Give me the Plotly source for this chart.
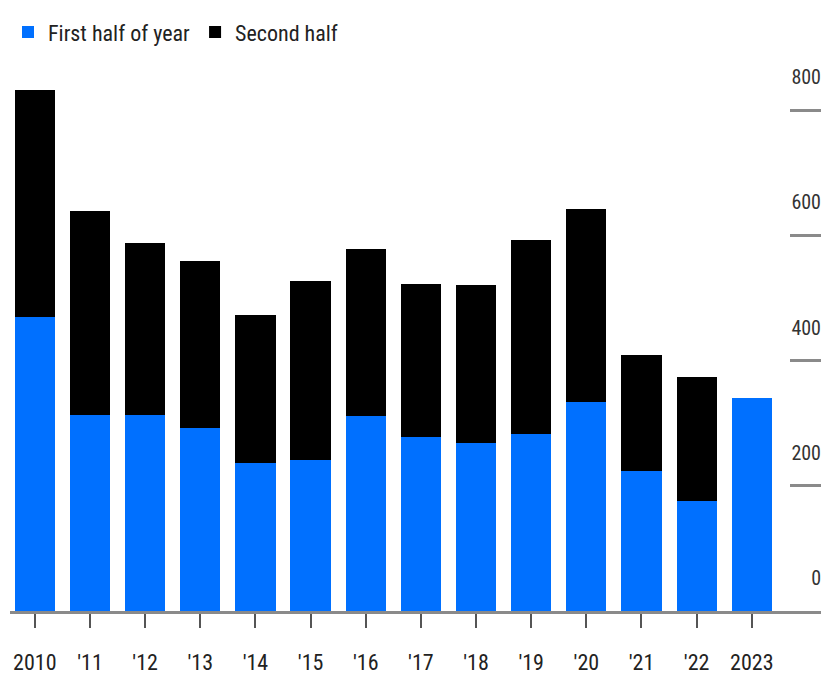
import plotly.graph_objects as go

years = ["2010", "'11", "'12", "'13", "'14", "'15", "'16", "'17", "'18", "'19", "'20", "'21", "'22", "2023"]
first_half = [469, 313, 313, 293, 236, 241, 311, 278, 268, 283, 333, 224, 176, 340]
second_half = [363, 325, 274, 266, 236, 286, 267, 244, 252, 309, 309, 185, 197, None]
y_ticks = [0, 200, 400, 600, 800]

FONT = "Liberation Sans Narrow, Roboto Condensed, Arial Narrow, Roboto, sans-serif"

fig = go.Figure()
fig.add_trace(go.Bar(x=years, y=first_half, name="First half of year",
                     marker=dict(color="#0070FF", line=dict(width=0))))
fig.add_trace(go.Bar(x=years, y=second_half, name="Second half",
                     marker=dict(color="#000000", line=dict(width=0))))

fig.update_layout(
    barmode="stack",
    bargap=0.27,
    width=821, height=672,
    margin=dict(l=2, r=0, t=40, b=69, autoexpand=False),
    paper_bgcolor="white", plot_bgcolor="white",
    font=dict(family=FONT, color="#222222", size=21),
    showlegend=True,
    legend=dict(orientation="h", xref="container", x=-0.01, xanchor="left",
                yref="container", y=0.964, yanchor="middle",
                font=dict(size=22, color="#222222"), itemwidth=30, traceorder="normal",
                bgcolor="rgba(0,0,0,0)"),
    xaxis=dict(type="category", range=[-0.45, 14.4], showgrid=False, zeroline=False,
               showline=True, linecolor="#8a8a8a", linewidth=3,
               ticks="outside", ticklen=14, tickwidth=1.5, tickcolor="#555555",
               ticklabelstandoff=16, tickfont=dict(size=22, color="#222222")),
    yaxis=dict(side="right", range=[0, 899], tickvals=y_ticks, showgrid=False,
               zeroline=False, showline=False,
               ticks="inside", ticklen=39, tickwidth=3, tickcolor="#8a8a8a",
               ticklabelposition="inside", ticklabelshift=-33, ticklabelstandoff=-30,
               tickfont=dict(size=20, color="#333333")),
)

fig.write_html("out.html")
